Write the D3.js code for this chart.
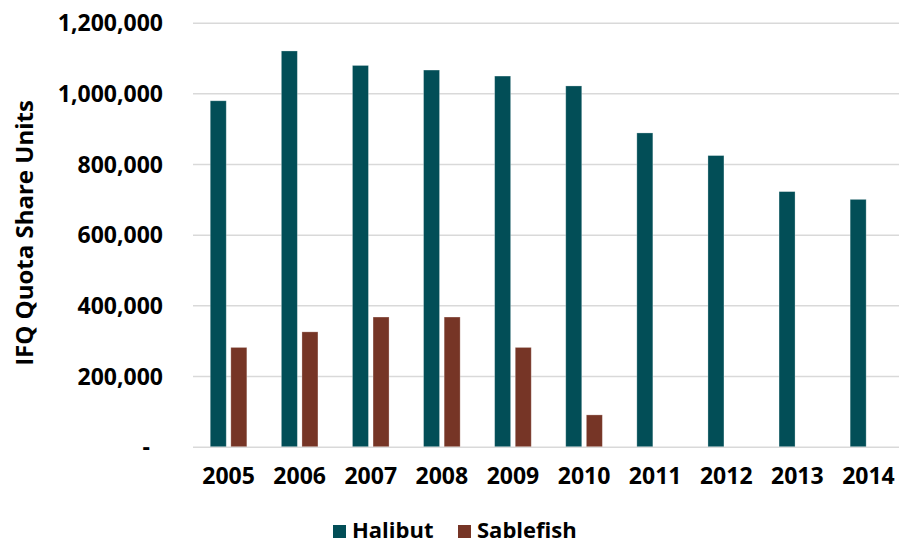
<!DOCTYPE html>
<html lang="en">
<head><meta charset="utf-8"/>
<script src="https://cdn.jsdelivr.net/npm/d3@7"></script>
<style>
body { margin: 0; background: #fff; }
text { font-family: "Open Sans", sans-serif; font-weight: 700; fill: #000; }
.grid line { stroke: #d9d9d9; stroke-width: 1.5px; }
.grid .domain { display: none; }
</style>
</head>
<body>
<svg id="chart" width="899" height="542"></svg>
<script>

var years = ["2005","2006","2007","2008","2009","2010","2011","2012","2013","2014"];
var halibut = [979000, 1120000, 1079000, 1066000, 1049000, 1021000, 888000, 824000, 722000, 700000];
var sablefish = [281000, 325000, 367000, 367000, 281000, 90000, null, null, null, null];
var seriesNames = ["Halibut", "Sablefish"];
var colors = ["#024e57", "#763526"];
var yTicks = [0, 200000, 400000, 600000, 800000, 1000000, 1200000];

var svg = d3.select("#chart"),
    plotLeft = 193, plotRight = 904, plotTop = 22.7, plotBottom = 446.7;

var x = d3.scaleBand().domain(years).range([plotLeft, plotRight]);
var y = d3.scaleLinear().domain([0, 1200000]).range([plotBottom, plotTop]);

// gridlines
svg.append("g")
	.attr("class", "grid")
	.attr("transform", "translate(" + plotLeft + ",0)")
	.call(d3.axisLeft(y).tickValues(yTicks).tickSize(-(plotRight - plotLeft)).tickFormat(""));

// y axis labels
var ay = svg.append("g")
	.attr("transform", "translate(" + (plotLeft - 30) + ",0)")
	.call(d3.axisLeft(y).tickValues(yTicks).tickSize(0).tickPadding(0)
		.tickFormat(d => d === 0 ? "-" : d3.format(",")(d)));
ay.select(".domain").remove();
ay.selectAll("text").style("font-size", "23px").attr("dy", "0.35em");
ay.selectAll(".tick").filter(d => d === 0).select("text").attr("x", -13);

// x axis labels
var ax = svg.append("g")
	.attr("transform", "translate(0," + plotBottom + ")")
	.call(d3.axisBottom(x).tickSize(0).tickPadding(21));
ax.select(".domain").remove();
ax.selectAll("text").style("font-size", "23px").attr("dy", "0.71em");

// bars
var bw = 16, gap = 4.6;
var data = [halibut, sablefish];
data.forEach(function(vals, s){
	svg.append("g").selectAll("rect")
		.data(years.map((yr, i) => ({year: yr, value: vals[i]})).filter(d => d.value != null))
		.enter().append("rect")
		.attr("x", d => x(d.year) + x.bandwidth()/2 - bw - gap/2 + s*(bw + gap))
		.attr("y", d => y(d.value))
		.attr("width", bw)
		.attr("height", d => y(0) - y(d.value))
		.attr("fill", colors[s])
		.attr("stroke", "rgba(255,255,255,0.35)")
		.attr("stroke-width", 0.8);
});

// y title
svg.append("text")
	.attr("transform", "translate(33,233) rotate(-90)")
	.attr("text-anchor", "middle")
	.style("font-size", "24px")
	.text("IFQ Quota Share Units");

// legend
var legX = [333, 458];
seriesNames.forEach(function(n, i){
	var lg = svg.append("g").attr("transform", "translate(" + legX[i] + ",525)");
	lg.append("rect").attr("width", 13).attr("height", 13).attr("fill", colors[i]);
	lg.append("text").attr("x", 19).attr("y", 12.5).style("font-size", "22px").text(n);
});
</script>
</body>
</html>
